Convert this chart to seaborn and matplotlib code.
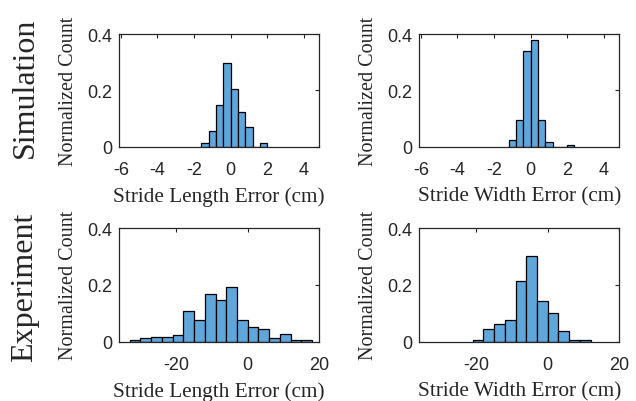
import numpy as np
import matplotlib
matplotlib.use("Agg")
import matplotlib.pyplot as plt
import seaborn as sns

# ---- data ----
sim_len_edges = [-1.6, -1.2, -0.8, -0.4, 0.0, 0.4, 0.8, 1.2, 1.6, 2.0]
sim_len_vals = [0.012, 0.057, 0.148, 0.296, 0.204, 0.122, 0.071, 0.0, 0.012]

sim_wid_edges = [-1.2, -0.8, -0.4, 0.0, 0.4, 0.8, 1.2, 1.6, 2.0, 2.4]
sim_wid_vals = [0.025, 0.093, 0.341, 0.377, 0.096, 0.017, 0.0, 0.0, 0.006]

exp_len_edges = [-33, -30, -27, -24, -21, -18, -15, -12, -9, -6, -3, 0, 3, 6, 9, 12, 15, 18]
exp_len_vals = [0.005, 0.012, 0.017, 0.017, 0.025, 0.109, 0.076, 0.168, 0.148,
                0.194, 0.076, 0.051, 0.043, 0.012, 0.026, 0.006, 0.006]

exp_wid_edges = [-21, -18, -15, -12, -9, -6, -3, 0, 3, 6, 9, 12]
exp_wid_vals = [0.006, 0.043, 0.063, 0.076, 0.213, 0.300, 0.143, 0.102, 0.038, 0.006, 0.006]

sim_xticks = [-6, -4, -2, 0, 2, 4]
exp_xticks = [-20, 0, 20]
yticks = [0, 0.2, 0.4]
ytick_labels = ["0", "0.2", "0.4"]

row_labels = ["Simulation", "Experiment"]
xlabels = ["Stride Length Error (cm)", "Stride Width Error (cm)"]
ylabel = "Normalized Count"

sns.set_style("white")
plt.rcParams["font.family"] = ["Liberation Sans", "DejaVu Sans"]
plt.rcParams["axes.unicode_minus"] = False

bar_color = "#5FA6DA"
ink = "#262626"
serif = ["Liberation Serif", "DejaVu Serif"]

fig = plt.figure(figsize=(6.36, 4.02), dpi=100)

W, H = 636, 402
def add_ax(left, top, right, bottom):
    return fig.add_axes([left / W, 1 - bottom / H, (right - left) / W, (bottom - top) / H])

axes = [
    [add_ax(119, 35, 319.3, 147.7), add_ax(419, 35, 619.3, 147.7)],
    [add_ax(119, 229, 319.3, 342.7), add_ax(419, 229, 619.3, 342.7)],
]

panels = [
    [(sim_len_edges, sim_len_vals), (sim_wid_edges, sim_wid_vals)],
    [(exp_len_edges, exp_len_vals), (exp_wid_edges, exp_wid_vals)],
]

for r in range(2):
    for c in range(2):
        ax = axes[r][c]
        edges, vals = panels[r][c]
        centers = [(edges[i] + edges[i + 1]) / 2 for i in range(len(vals))]
        sns.histplot(x=centers, weights=vals, bins=edges, ax=ax,
                     color=bar_color, alpha=1.0, edgecolor="black", linewidth=0.9)
        if r == 0:
            ax.set_xlim(-6.1, 4.85)
            ax.set_xticks(sim_xticks)
        else:
            ax.set_xlim(-36, 20)
            ax.set_xticks(exp_xticks)
        ax.set_ylim(0, 0.4)
        ax.set_yticks(yticks)
        ax.set_yticklabels(ytick_labels)
        ax.tick_params(direction="in", top=True, right=True, length=3, width=0.8,
                       colors=ink, labelsize=13)
        ax.tick_params(axis="x", pad=10)
        ax.tick_params(axis="y", pad=5)
        for s in ax.spines.values():
            s.set_visible(True)
            s.set_color(ink)
            s.set_linewidth(0.9)
        ax.set_xlabel(xlabels[c], family=serif, fontsize=15.3, color=ink)
        ax.xaxis.set_label_coords(0.5, -0.35)
        ax.set_ylabel(ylabel, family=serif, fontsize=14.5, color=ink)
        ax.yaxis.set_label_coords(-0.205, 0.5)

fig.text(25 / W, 1 - 88 / H, row_labels[0], rotation=90, ha="center", va="center",
         family=serif, fontsize=23, color=ink)
fig.text(25 / W, 1 - 287 / H, row_labels[1], rotation=90, ha="center", va="center",
         family=serif, fontsize=23, color=ink)

fig.savefig("out.png", dpi=100)
